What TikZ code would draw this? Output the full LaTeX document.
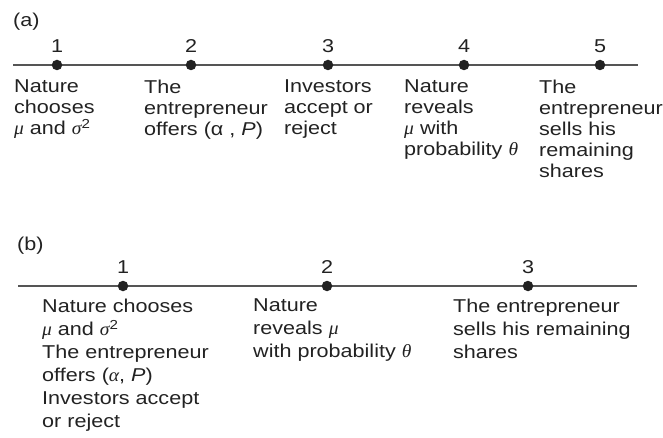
\documentclass[tikz,border=0pt]{standalone}
\usepackage{fontspec}
\setmainfont[FakeStretch=1.16]{Liberation Sans}
\newfontfamily\grk[FakeStretch=1.05]{Liberation Serif}
\definecolor{txt}{HTML}{222222}
\definecolor{linegray}{HTML}{555555}
\newcommand{\gmu}{{\grk\itshape μ}}
\newcommand{\gsig}{{\grk\itshape σ}}
\newcommand{\gth}{{\grk\itshape θ}}
\newcommand{\gal}{{\grk\itshape α}}
\newcommand{\sqr}{\textsuperscript{2}}
\begin{document}
\begin{tikzpicture}[x=1pt,y=-1pt,
  tl/.style={draw=linegray, line width=1.6pt},
  ev/.style={circle, fill=txt, inner sep=0pt, minimum size=10.5pt},
  num/.style={anchor=base, inner sep=0pt, font=\fontsize{18.6}{21}\selectfont, text=txt},
  lab/.style={anchor=north west, inner sep=0pt, align=left, font=\fontsize{18.6}{21}\selectfont, text=txt},
  labb/.style={lab, font=\fontsize{18.6}{23}\selectfont},
  tag/.style={anchor=base west, inner sep=0pt, font=\fontsize{18.6}{21}\selectfont, text=txt}]
\useasboundingbox (0,0) rectangle (663,438);
% ---------- (a) ----------
\node[tag] (ta) at (13,27) {(a)};
\coordinate (aL) at (13,65);
\coordinate (aR) at (638,65);
\draw[tl] (aL) -- (aR);
\node[ev] (a1) at (57,65) {};
\node[ev] (a2) at (191,65) {};
\node[ev] (a3) at (328,65) {};
\node[ev] (a4) at (464,65) {};
\node[ev] (a5) at (600,65) {};
\node[num] (na1) at (57,53) {1};
\node[num] (na2) at (191,53) {2};
\node[num] (na3) at (328,53) {3};
\node[num] (na4) at (464,53) {4};
\node[num] (na5) at (600,53) {5};
\node[lab] (la1) at (14,80) {Nature\\chooses\\\gmu{} and \gsig\sqr};
\node[lab] (la2) at (144,80) {The\\entrepreneur\\offers (α , \textit{P})};
\node[lab] (la3) at (284,80) {Investors\\accept or\\reject};
\node[lab] (la4) at (404,80) {Nature\\reveals\\\gmu{} with\\probability \gth};
\node[lab] (la5) at (539,80) {The\\entrepreneur\\sells his\\remaining\\shares};
% ---------- (b) ----------
\node[tag] (tb) at (17,250) {(b)};
\coordinate (bL) at (18,286);
\coordinate (bR) at (637,286);
\draw[tl] (bL) -- (bR);
\node[ev] (b1) at (123,286) {};
\node[ev] (b2) at (327,286) {};
\node[ev] (b3) at (528,286) {};
\node[num] (nb1) at (123,273) {1};
\node[num] (nb2) at (327,273) {2};
\node[num] (nb3) at (528,273) {3};
\node[labb] (lb1) at (42,299) {Nature chooses\\\gmu{} and \gsig\sqr\\The entrepreneur\\offers (\gal, \textit{P})\\Investors accept\\or reject};
\node[labb] (lb2) at (253,299) {Nature\\reveals \gmu\\with probability \gth};
\node[labb] (lb3) at (453,299) {The entrepreneur\\sells his remaining\\shares};
\end{tikzpicture}
\end{document}
